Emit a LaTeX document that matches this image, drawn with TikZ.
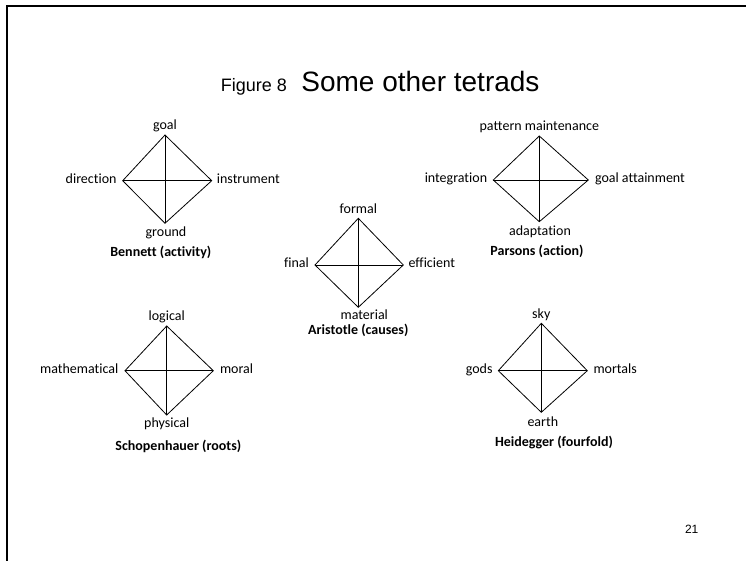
\documentclass[tikz,border=0pt]{standalone}
\usepackage{fontspec}
\setmainfont{Carlito}[Ligatures={NoCommon}]
\newfontfamily\arialfont{Liberation Sans}
\begin{document}
\begin{tikzpicture}[x=1pt,y=-1pt,
  edge/.style={draw=black,line width=0.8pt,line join=miter},
  lbl/.style={inner sep=0pt,font=\fontsize{14}{16}\selectfont},
  captext/.style={inner sep=0pt,font=\fontsize{14}{16}\selectfont\bfseries,anchor=base},
  frameline/.style={draw=black,line width=2.2pt,line join=miter}]
\useasboundingbox (0,0) rectangle (746,561);

% slide frame
\coordinate (fb) at (7,562);
\coordinate (fc) at (7,6.2);
\coordinate (fr) at (747,6.2);
\draw[frameline] (fb) -- (fc) -- (fr);

% title and page number
\node[inner sep=0pt,anchor=base west,font=\arialfont\fontsize{18}{20}\selectfont] (fig) at (220.7,92) {Figure 8};
\node[inner sep=0pt,anchor=base west,font=\arialfont\fontsize{28}{32}\selectfont] (title) at (301.2,92) {Some other tetrads};
\node[inner sep=0pt,anchor=base,font=\arialfont\fontsize{12}{14}\selectfont] (page) at (691.7,533) {21};

% ---- Bennett (activity)
\coordinate (b-t) at (165,135);
\coordinate (b-l) at (122.7,180.7);
\coordinate (b-r) at (211.7,180.7);
\coordinate (b-b) at (165,223.3);
\draw[edge] (b-t) -- (b-r) -- (b-b) -- (b-l) -- cycle;
\draw[edge] (b-t) -- (b-b) (b-l) -- (b-r);
\node[lbl,anchor=base] (b-tl) at ([yshift=5pt]b-t) {goal};
\node[lbl,anchor=mid east] (b-ll) at ([xshift=-6pt]b-l) {direction};
\node[lbl,anchor=mid west] (b-rl) at ([xshift=5pt]b-r) {instrument};
\node[lbl,anchor=base] (b-bl) at ([xshift=1pt,yshift=-13.5pt]b-b) {ground};
\node[captext] (b-cap) at (160.8,256.7) {Bennett (activity)};

% ---- Parsons (action)
\coordinate (p-t) at (539.3,136);
\coordinate (p-l) at (493.3,180);
\coordinate (p-r) at (588.3,180);
\coordinate (p-b) at (539.3,221.7);
\draw[edge] (p-t) -- (p-r) -- (p-b) -- (p-l) -- cycle;
\draw[edge] (p-t) -- (p-b) (p-l) -- (p-r);
\node[lbl,anchor=base] (p-tl) at ([yshift=5.5pt]p-t) {pattern maintenance};
\node[lbl,anchor=mid east] (p-ll) at ([xshift=-6pt]p-l) {integration};
\node[lbl,anchor=mid west] (p-rl) at ([xshift=6.5pt]p-r) {goal attainment};
\node[lbl,anchor=base] (p-bl) at ([xshift=0.7pt,yshift=-14pt]p-b) {adaptation};
\node[captext] (p-cap) at (537,255.7) {Parsons (action)};

% ---- Aristotle (causes)
\coordinate (a-t) at (358.3,218.3);
\coordinate (a-l) at (315,265);
\coordinate (a-r) at (403.3,265);
\coordinate (a-b) at (358.3,307.3);
\draw[edge] (a-t) -- (a-r) -- (a-b) -- (a-l) -- cycle;
\draw[edge] (a-t) -- (a-b) (a-l) -- (a-r);
\node[lbl,anchor=base] (a-tl) at ([yshift=5pt]a-t) {formal};
\node[lbl,anchor=mid east] (a-ll) at ([xshift=-6pt]a-l) {final};
\node[lbl,anchor=mid west] (a-rl) at ([xshift=5pt]a-r) {efficient};
\node[lbl,anchor=base] (a-bl) at ([xshift=6pt,yshift=-12pt]a-b) {material};
\node[captext] (a-cap) at (358.3,334.3) {Aristotle (causes)};

% ---- Schopenhauer (roots)
\coordinate (s-t) at (166.7,326);
\coordinate (s-l) at (125,370.7);
\coordinate (s-r) at (213.3,370.7);
\coordinate (s-b) at (166.7,415);
\draw[edge] (s-t) -- (s-r) -- (s-b) -- (s-l) -- cycle;
\draw[edge] (s-t) -- (s-b) (s-l) -- (s-r);
\node[lbl,anchor=base] (s-tl) at ([yshift=6pt]s-t) {logical};
\node[lbl,anchor=mid east] (s-ll) at ([xshift=-6.5pt]s-l) {mathematical};
\node[lbl,anchor=mid west] (s-rl) at ([xshift=6.5pt]s-r) {moral};
\node[lbl,anchor=base] (s-bl) at ([yshift=-12.7pt]s-b) {physical};
\node[captext] (s-cap) at (178.3,450) {Schopenhauer (roots)};

% ---- Heidegger (fourfold)
\coordinate (h-t) at (541.3,323.3);
\coordinate (h-l) at (498.3,370.7);
\coordinate (h-r) at (587.3,370.7);
\coordinate (h-b) at (541.3,412.3);
\draw[edge] (h-t) -- (h-r) -- (h-b) -- (h-l) -- cycle;
\draw[edge] (h-t) -- (h-b) (h-l) -- (h-r);
\node[lbl,anchor=base] (h-tl) at ([yshift=5pt]h-t) {sky};
\node[lbl,anchor=mid east] (h-ll) at ([xshift=-5.6pt]h-l) {gods};
\node[lbl,anchor=mid west] (h-rl) at ([xshift=6pt]h-r) {mortals};
\node[lbl,anchor=base] (h-bl) at ([xshift=1.5pt,yshift=-14.4pt]h-b) {earth};
\node[captext] (h-cap) at (554,446.7) {Heidegger (fourfold)};
\end{tikzpicture}
\end{document}
